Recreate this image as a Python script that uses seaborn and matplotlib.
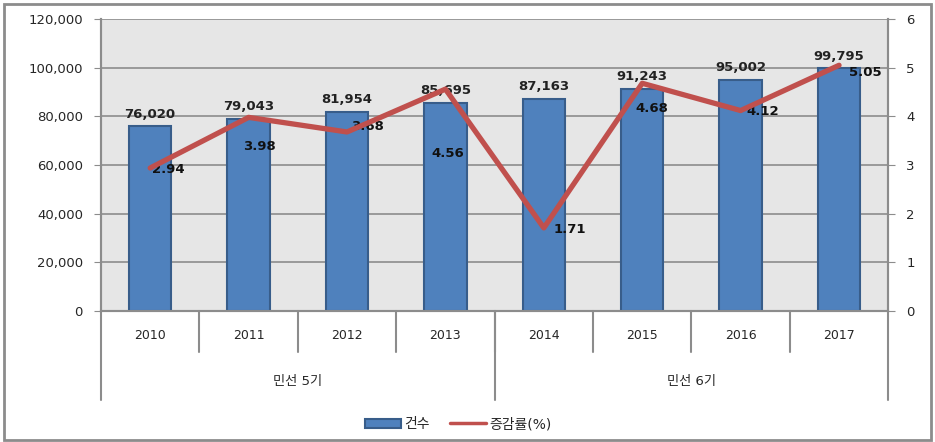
import matplotlib
matplotlib.use("Agg")
import matplotlib.pyplot as plt
import matplotlib.transforms as mtransforms
from matplotlib.patches import Rectangle, Patch
from matplotlib.lines import Line2D
import numpy as np
import pandas as pd
import seaborn as sns

# data
years = ['2010', '2011', '2012', '2013', '2014', '2015', '2016', '2017']
counts = [76020, 79043, 81954, 85695, 87163, 91243, 95002, 99795]
rates = [2.94, 3.98, 3.68, 4.56, 1.71, 4.68, 4.12, 5.05]
groups = ['민선 5기', '민선 6기']
group_sizes = [4, 4]

# label offsets (points) for the rate labels, as placed in the original
rate_offsets = [(13, -1), (8, -21), (15, 4), (2, -46), (19, -1), (7, -18), (16, -1), (19, -5)]

sns.set_style("white")
plt.rcParams['font.family'] = ['DejaVu Sans', 'Noto Sans CJK KR']

bar_color = '#4F81BD'
bar_edge = '#385D8A'
line_color = '#C0504D'

df = pd.DataFrame({'year': years, 'count': counts, 'rate': rates})

fig = plt.figure(figsize=(9.35, 4.42), dpi=100)
ax = fig.add_axes([0.108, 0.296, 0.842, 0.661])
ax.set_facecolor('#E6E6E6')

sns.barplot(data=df, x='year', y='count', ax=ax, color=bar_color, width=0.43,
            edgecolor=bar_edge, linewidth=1.5, saturation=1, zorder=3)
ax.set_ylim(0, 120000)
ax.set_xlim(-0.5, len(years) - 0.5)
ax.set_yticks(np.arange(0, 120001, 20000))
ax.set_yticklabels([f'{v:,}' for v in range(0, 120001, 20000)], fontsize=9.5)
ax.yaxis.grid(True, color='#8C8C8C', linewidth=1.2, zorder=0)
ax.set_axisbelow(True)
ax.set_xlabel('')
ax.set_ylabel('')
ax.set_xticks([])
ax.tick_params(axis='y', length=5, color='#8C8C8C', direction='out', left=True, pad=8)
for s in ax.spines.values():
    s.set_color('#8C8C8C')
    s.set_linewidth(1.5)
ax.spines['top'].set_visible(False)

for c in ax.containers:
    ax.bar_label(c, labels=[f'{v:,}' for v in counts], padding=4,
                 fontsize=9.5, fontweight='bold', color='#222222')

ax2 = ax.twinx()
xpos = np.arange(len(years))
sns.lineplot(x=xpos, y=rates, ax=ax2, color=line_color, linewidth=3.8, zorder=4)
ax2.set_ylim(0, 6)
ax2.set_yticks(range(0, 7))
ax2.tick_params(axis='y', length=5, color='#8C8C8C', direction='out', right=True, pad=8, labelsize=9.5)
ax2.spines['top'].set_visible(False)
for s in ax2.spines.values():
    s.set_color('#8C8C8C')
    s.set_linewidth(1.5)
ax2.set_ylabel('')

for x, r, (dx, dy) in zip(xpos, rates, rate_offsets):
    ax2.annotate(f'{r:.2f}', (x, r), xytext=(dx, dy), textcoords='offset points',
                 ha='center', va='center', fontsize=9.5, fontweight='bold', color='#111111')

# multi-level category axis
trans = mtransforms.blended_transform_factory(ax.transData, ax.transAxes)
sep_kw = dict(color='#8C8C8C', linewidth=1.5, transform=trans, clip_on=False)
for i in range(1, len(years)):
    ax.add_line(Line2D([i - 0.5, i - 0.5], [0, -0.14], **sep_kw))
for i, y in enumerate(years):
    ax.text(i, -0.082, y, transform=trans, ha='center', va='center', fontsize=9)
edges = np.concatenate([[0], np.cumsum(group_sizes)]) - 0.5
for e in edges:
    ax.add_line(Line2D([e, e], [0, -0.305], **sep_kw))
for g, a, b in zip(groups, edges[:-1], edges[1:]):
    ax.text((a + b) / 2, -0.24, g, transform=trans, ha='center', va='center', fontsize=9.5)

handles = [Patch(facecolor=bar_color, edgecolor=bar_edge, linewidth=1.5, label='건수'),
           Line2D([0], [0], color=line_color, linewidth=2.5, label='증감률(%)')]
fig.legend(handles=handles, loc='center', bbox_to_anchor=(0.49, 0.04), ncol=2,
           frameon=False, fontsize=10, handlelength=2.6, handletextpad=0.2, columnspacing=1.5)

fig.patches.append(Rectangle((0.004, 0.004), 0.992, 0.988, transform=fig.transFigure,
                             fill=False, edgecolor='#8C8C8C', linewidth=2))

plt.savefig('out.png', dpi=100)
